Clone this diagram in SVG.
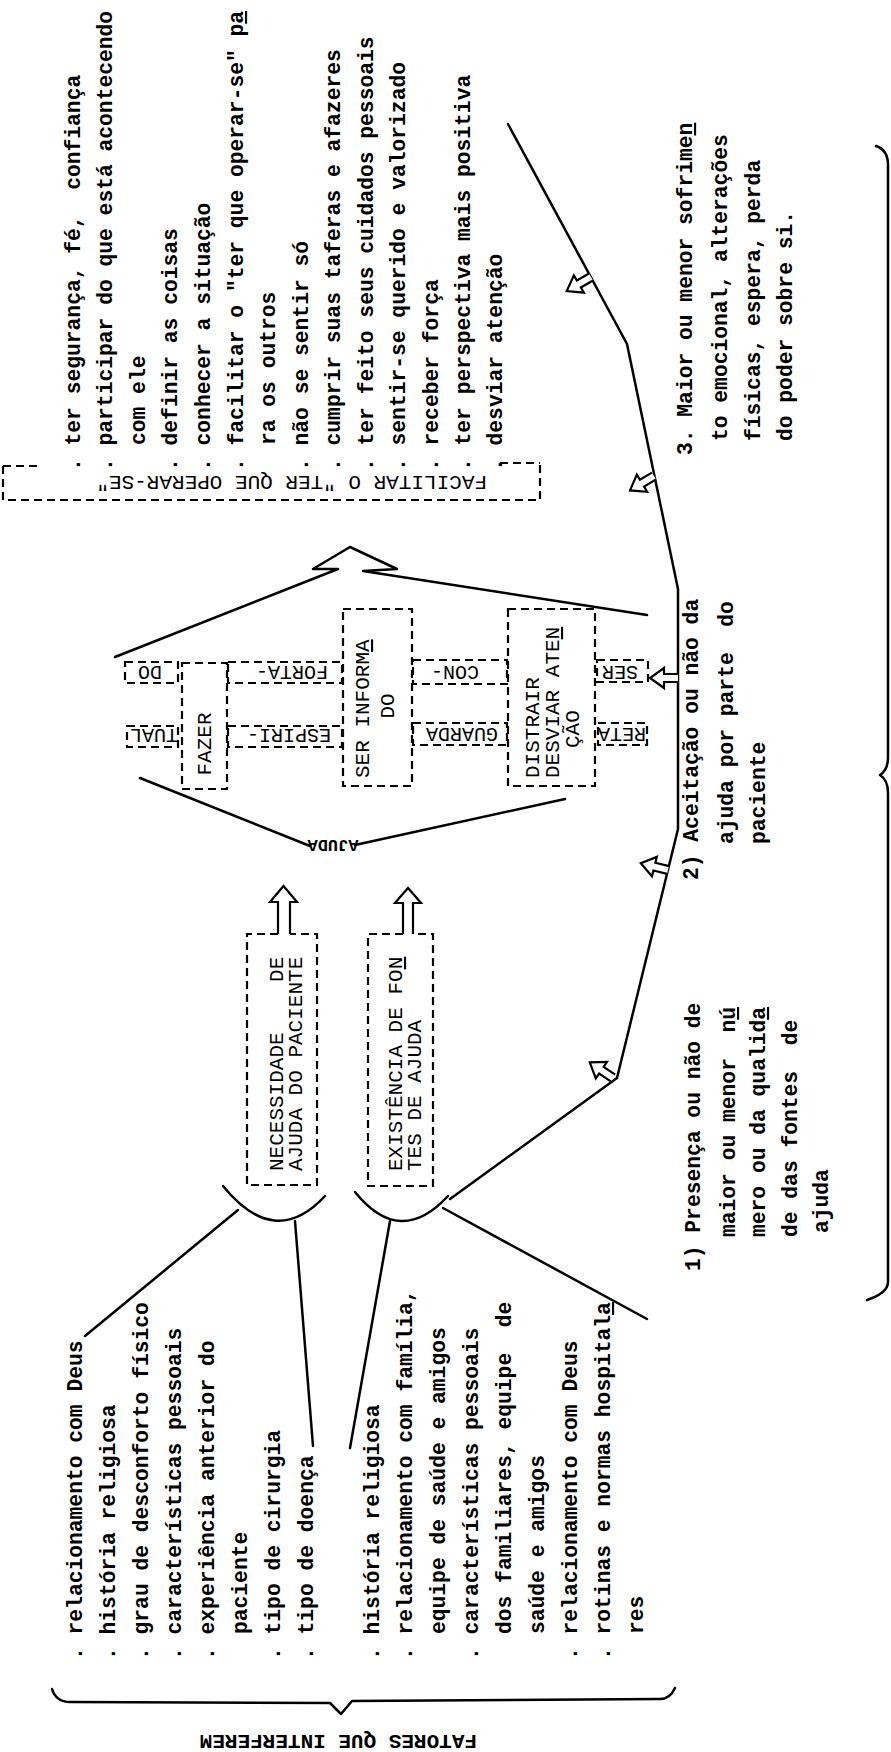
<svg xmlns="http://www.w3.org/2000/svg" xmlns:xlink="http://www.w3.org/1999/xlink" width="891" height="1752" viewBox="0 0 891 1752">
<style>
.t{font-family:"Liberation Mono","Courier New",monospace;font-size:21.3px;font-weight:bold;fill:#000;white-space:pre}
.b{font-family:"Liberation Mono","Courier New",monospace;font-size:21px;fill:#000;white-space:pre}
.s{font-family:"Liberation Mono","Courier New",monospace;font-size:20px;fill:#000;white-space:pre}
.a{font-family:"Liberation Mono","Courier New",monospace;font-size:17px;font-weight:bold;fill:#000}
.ln{stroke:#000;stroke-width:2.5;fill:none;stroke-linecap:round;stroke-linejoin:round}
.d{stroke:#000;stroke-width:2.2;fill:none;stroke-dasharray:8 5}
.ha{stroke:#000;stroke-width:2.2;fill:#fff;stroke-linejoin:miter}
</style>
<defs>
<path id="harrow" class="ha" d="M0,-4 L14,-4 L14,-10 L28,0 L14,10 L14,4 L0,4"/>
</defs>
<rect width="891" height="1752" fill="#fff"/>

<g id="connectors">
<path class="ln" d="M85,1336 L238,1210"/>
<path class="ln" d="M313,1446 L295,1221"/>
<path class="ln" d="M390,1221 L350,1448"/>
<path class="ln" d="M443,1208 L647,1319"/>
<path class="ln" d="M223,1186 Q275,1250 325,1196"/>
<path class="ln" d="M355,1192 Q400,1248 448,1196"/>
<path class="ln" d="M450,1199 L617,1078 L678,829 L678,589 L627,344 L508,124"/>
<path class="ln" d="M115,657 L338,569 L313,569 L350,547 L397,569 L363,571 L647,615"/>
<path class="ln" d="M140,778 L310,846"/>
<path class="ln" d="M355,845 L565,799"/>
<path class="ha" d="M278,934 L278,902 L270,902 L283.5,886 L297,902 L290,902 L290,934"/>
<path class="ha" d="M403,934 L403,903 L395,903 L408,888 L421,903 L413,903 L413,934"/>
<use xlink:href="#harrow" transform="translate(613,1078) rotate(214)"/>
<use xlink:href="#harrow" transform="translate(668,870) rotate(194)"/>
<use xlink:href="#harrow" transform="translate(678,678) rotate(180)"/>
<use xlink:href="#harrow" transform="translate(654,476) rotate(149)"/>
<use xlink:href="#harrow" transform="translate(591,277) rotate(150)"/>
</g>

<g id="brace-fatores">
<path class="ln" d="M52,1689 Q56,1702 70,1702 L330,1703 L341,1714 L352,1701 L660,1699 Q670,1699 675,1688"/>
<text class="b" font-size="22" font-weight="bold" transform="translate(477,1735) rotate(180)">FATORES QUE INTERFEREM</text>
</g>

<g id="brace-right">
<path class="ln" d="M876,146 Q888,150 888,165 L888,757 Q888,770 880,775 Q888,780 888,793 L888,1282 Q888,1293 867,1300"/>
</g>

<g id="list-necessidade">
<text class="t" transform="translate(82,1660) rotate(-90)">. relacionamento com Deus</text>
<text class="t" transform="translate(115,1660) rotate(-90)">. história religiosa</text>
<text class="t" transform="translate(148,1660) rotate(-90)">. grau de desconforto físico</text>
<text class="t" transform="translate(181,1660) rotate(-90)">. características pessoais</text>
<text class="t" transform="translate(214,1660) rotate(-90)">. experiência anterior do</text>
<text class="t" transform="translate(247,1634) rotate(-90)">paciente</text>
<text class="t" transform="translate(280,1660) rotate(-90)">. tipo de cirurgia</text>
<text class="t" transform="translate(313,1660) rotate(-90)">. tipo de doença</text>
</g>

<g id="list-fontes">
<text class="t" transform="translate(379,1660) rotate(-90)">. história religiosa</text>
<text class="t" transform="translate(412,1660) rotate(-90)">. relacionamento com família,</text>
<text class="t" transform="translate(445,1634) rotate(-90)">equipe de saúde e amigos</text>
<text class="t" transform="translate(478,1660) rotate(-90)">. características pessoais</text>
<text class="t" transform="translate(511,1634) rotate(-90)">dos familiares, equipe  de</text>
<text class="t" transform="translate(544,1634) rotate(-90)">saúde e amigos</text>
<text class="t" transform="translate(577,1660) rotate(-90)">. relacionamento com Deus</text>
<text class="t" transform="translate(610,1660) rotate(-90)">. rotinas e normas hospital<tspan text-decoration="underline">a</tspan></text>
<text class="t" transform="translate(643,1634) rotate(-90)">res</text>
</g>

<g id="box-necessidade">
<path class="d" d="M278,934 H247 V1185 H317 V934 H290"/>
<text class="b" transform="translate(283,1171) rotate(-90)">NECESSIDADE    DE</text>
<text class="b" transform="translate(302,1171) rotate(-90)">AJUDA DO PACIENTE</text>
</g>

<g id="box-existencia">
<path class="d" d="M403,934 H368 V1186 H433 V934 H413"/>
<text class="b" transform="translate(402,1171) rotate(-90)">EXISTÊNCIA DE FO<tspan text-decoration="underline">N</tspan></text>
<text class="b" transform="translate(421,1171) rotate(-90)">TES DE AJUDA</text>
</g>

<g id="ajuda">
<text class="a" text-anchor="middle" transform="translate(333,840) rotate(180)">AJUDA</text>
</g>

<g id="box-fazer">
<rect class="d" x="182" y="663" width="45" height="126"/>
<text class="b" text-anchor="middle" transform="translate(211,744) rotate(-90)">FAZER</text>
</g>

<g id="box-ser-informado">
<rect class="d" x="343" y="609" width="69" height="177"/>
<text class="b" transform="translate(369,778) rotate(-90)">SER INFORM<tspan text-decoration="underline">A</tspan></text>
<text class="b" text-anchor="middle" transform="translate(394,706) rotate(-90)">DO</text>
</g>

<g id="box-distrair">
<rect class="d" x="508" y="609" width="87" height="177"/>
<text class="b" transform="translate(539,778) rotate(-90)">DISTRAIR</text>
<text class="b" transform="translate(559,778) rotate(-90)">DESVIAR ATE<tspan text-decoration="underline">N</tspan></text>
<text class="b" transform="translate(579,748) rotate(-90)">ÇÃO</text>
</g>

<g id="row-ser-confortado">
<rect class="d" x="125" y="662" width="53" height="21"/>
<rect class="d" x="228" y="662" width="114" height="21"/>
<rect class="d" x="413" y="660" width="94" height="24"/>
<rect class="d" x="597" y="660" width="51" height="22"/>
<text class="s" text-anchor="middle" transform="translate(150,666) rotate(180)">DO</text>
<text class="s" text-anchor="middle" transform="translate(292,666) rotate(180)">FORTA-</text>
<text class="s" text-anchor="middle" transform="translate(455,666) rotate(180)">CON-</text>
<text class="s" text-anchor="middle" transform="translate(620,666) rotate(180)">SER</text>
</g>

<g id="row-retaguarda-espiritual">
<rect class="d" x="127" y="726" width="51" height="21"/>
<rect class="d" x="228" y="726" width="114" height="21"/>
<rect class="d" x="413" y="723" width="94" height="22"/>
<rect class="d" x="598" y="723" width="49" height="22"/>
<text class="s" text-anchor="middle" transform="translate(154,729) rotate(180)">TUAL</text>
<text class="s" text-anchor="middle" transform="translate(289,729) rotate(180)">ESPIRI-</text>
<text class="s" text-anchor="middle" transform="translate(462,728) rotate(180)">GUARDA</text>
<text class="s" text-anchor="middle" transform="translate(622,728) rotate(180)">RETA</text>
</g>

<g id="box-facilitar">
<path class="d" d="M3,466 V500 H540 V463"/>
<path class="d" d="M3,466 H42"/>
<path class="d" d="M500,463 H540"/>
<text class="b" transform="translate(487,476) rotate(180)">FACILITAR O "TER QUE OPERAR-SE"</text>
</g>

<g id="list-facilitar">
<text class="t" transform="translate(80,471) rotate(-90)">. ter segurança, fé,  confiança</text>
<text class="t" transform="translate(112,471) rotate(-90)">. participar do que está acontecendo</text>
<text class="t" transform="translate(145,445) rotate(-90)">com ele</text>
<text class="t" transform="translate(177,471) rotate(-90)">. definir as coisas</text>
<text class="t" transform="translate(210,471) rotate(-90)">. conhecer a situação</text>
<text class="t" transform="translate(243,471) rotate(-90)">. facilitar o "ter que operar-se" p<tspan text-decoration="underline">a</tspan></text>
<text class="t" transform="translate(275,445) rotate(-90)">ra os outros</text>
<text class="t" transform="translate(308,471) rotate(-90)">. não se sentir só</text>
<text class="t" transform="translate(340,471) rotate(-90)">. cumprir suas taferas e afazeres</text>
<text class="t" transform="translate(373,471) rotate(-90)">. ter feito seus cuidados pessoais</text>
<text class="t" transform="translate(405,471) rotate(-90)">. sentir-se querido e valorizado</text>
<text class="t" transform="translate(438,471) rotate(-90)">. receber força</text>
<text class="t" transform="translate(470,471) rotate(-90)">. ter perspectiva mais positiva</text>
<text class="t" transform="translate(502,471) rotate(-90)">. desviar atenção</text>
</g>

<g id="item-1">
<text class="t" transform="translate(700,1271) rotate(-90)">1) Presença ou não de</text>
<text class="t" transform="translate(735,1237) rotate(-90)">maior ou menor  n<tspan text-decoration="underline">ú</tspan></text>
<text class="t" transform="translate(765,1237) rotate(-90)">mero ou da qualid<tspan text-decoration="underline">a</tspan></text>
<text class="t" transform="translate(797,1237) rotate(-90)">de das fontes  de</text>
<text class="t" transform="translate(828,1233) rotate(-90)">ajuda</text>
</g>

<g id="item-2">
<text class="t" transform="translate(698,880) rotate(-90)">2) Aceitação ou não da</text>
<text class="t" transform="translate(733,844) rotate(-90)">ajuda por parte  do</text>
<text class="t" transform="translate(765,844) rotate(-90)">paciente</text>
</g>

<g id="item-3">
<text class="t" transform="translate(692,455) rotate(-90)">3. Maior ou menor sofrime<tspan text-decoration="underline">n</tspan></text>
<text class="t" transform="translate(727,441) rotate(-90)">to emocional, alterações</text>
<text class="t" transform="translate(760,441) rotate(-90)">físicas, espera, perda</text>
<text class="t" transform="translate(792,441) rotate(-90)">do poder sobre si.</text>
</g>
</svg>
